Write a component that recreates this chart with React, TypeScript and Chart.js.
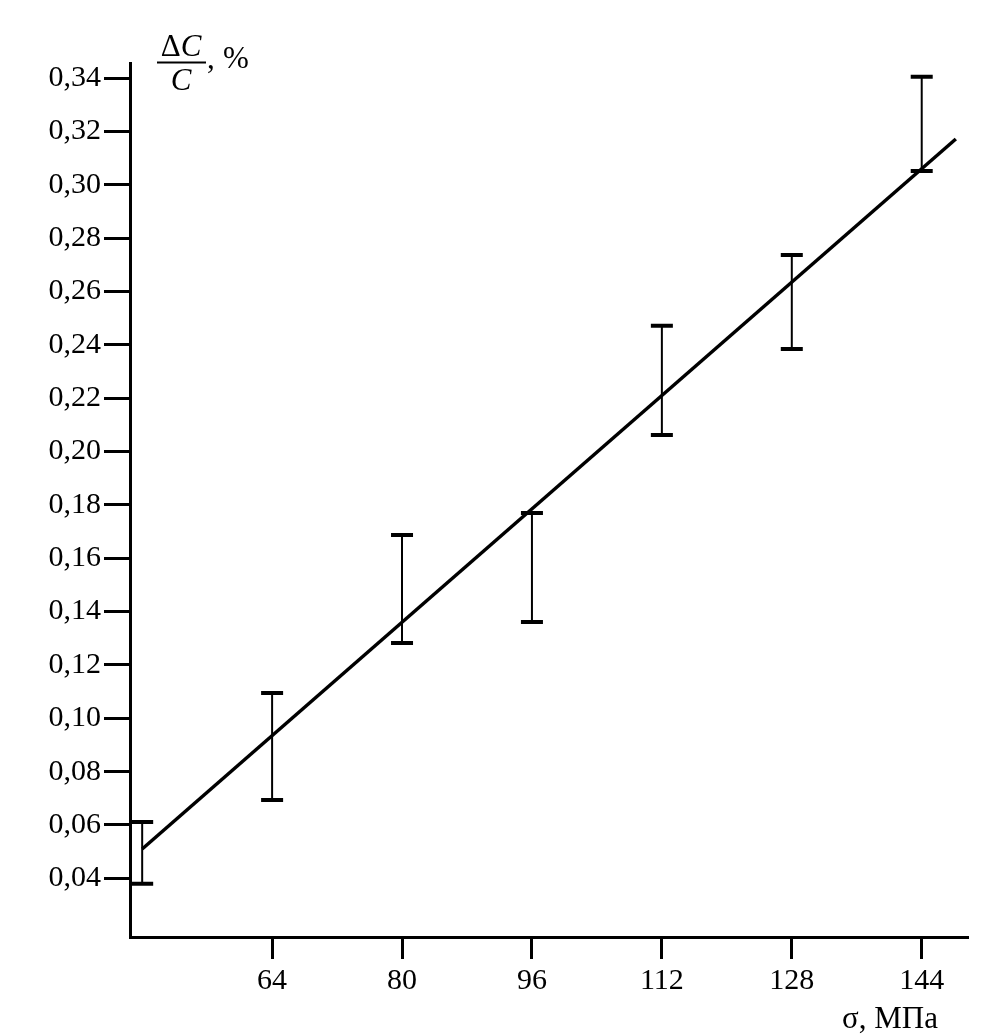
import { useEffect, useRef } from "react";
import { Chart, registerables } from "chart.js";

Chart.register(...registerables);

// Data
const sigma = [48, 64, 80, 96, 112, 128, 144];
const dcLow = [0.038, 0.0694, 0.1282, 0.1361, 0.2062, 0.2385, 0.3052];
const dcHigh = [0.0611, 0.1095, 0.1687, 0.177, 0.2472, 0.2737, 0.3405];
const fitX = [48, 148.2];
const fitY = [0.051, 0.3172];
const xTicks = [64, 80, 96, 112, 128, 144];
const yTicks = [0.04, 0.06, 0.08, 0.1, 0.12, 0.14, 0.16, 0.18, 0.2, 0.22, 0.24, 0.26, 0.28, 0.3, 0.32, 0.34];
const xTitle = "σ, МПа";

const FONT = "'Liberation Serif', 'Times New Roman', serif";

const errorBarPlugin = {
  id: "errorBars",
  afterDatasetsDraw(chart: any) {
    const { ctx, scales } = chart;
    const xs = scales.x;
    const ys = scales.y;
    ctx.save();
    ctx.strokeStyle = "#000";
    for (let i = 0; i < sigma.length; i++) {
      const px = xs.getPixelForValue(sigma[i]);
      const pLo = ys.getPixelForValue(dcLow[i]);
      const pHi = ys.getPixelForValue(dcHigh[i]);
      ctx.lineWidth = 2;
      ctx.beginPath();
      ctx.moveTo(px, pLo);
      ctx.lineTo(px, pHi);
      ctx.stroke();
      ctx.lineWidth = 4;
      ctx.beginPath();
      ctx.moveTo(px - 11, pLo);
      ctx.lineTo(px + 11, pLo);
      ctx.moveTo(px - 11, pHi);
      ctx.lineTo(px + 11, pHi);
      ctx.stroke();
    }
    ctx.restore();
  },
};

const titlesPlugin = {
  id: "titles",
  afterDraw(chart: any) {
    const { ctx } = chart;
    ctx.save();
    ctx.fillStyle = "#000";
    ctx.strokeStyle = "#000";
    ctx.textBaseline = "alphabetic";
    // Y title: fraction ΔC / C, %
    ctx.font = `31px ${FONT}`;
    ctx.textAlign = "left";
    const dW = ctx.measureText("Δ").width;
    ctx.font = `italic 31px ${FONT}`;
    const cW = ctx.measureText("C").width;
    const numW = dW + cW;
    const cx = 181;
    const nx = cx - numW / 2;
    ctx.font = `31px ${FONT}`;
    ctx.fillText("Δ", nx, 56);
    ctx.font = `italic 31px ${FONT}`;
    ctx.fillText("C", nx + dW, 56);
    ctx.textAlign = "center";
    ctx.fillText("C", cx, 90);
    ctx.lineWidth = 2;
    ctx.beginPath();
    ctx.moveTo(157, 62.5);
    ctx.lineTo(206, 62.5);
    ctx.stroke();
    ctx.font = `31px ${FONT}`;
    ctx.textAlign = "left";
    ctx.fillText(",", 207, 68);
    ctx.fillText("%", 223, 68);
    // X title
    ctx.font = `31px ${FONT}`;
    ctx.textAlign = "right";
    ctx.fillText(xTitle, 938, 1028);
    ctx.restore();
  },
};

export default function App() {
  const ref = useRef<HTMLCanvasElement | null>(null);

  useEffect(() => {
    if (!ref.current) return;
    const chart = new Chart(ref.current, {
      type: "scatter",
      data: {
        datasets: [
          {
            type: "line",
            data: fitX.map((x, i) => ({ x, y: fitY[i] })),
            borderColor: "#000",
            borderWidth: 3.5,
            pointRadius: 0,
            fill: false,
            tension: 0,
          },
        ],
      },
      options: {
        responsive: false,
        animation: false,
        devicePixelRatio: 1,
        layout: { padding: { top: 63, right: 28, left: 0, bottom: 0 } },
        plugins: {
          legend: { display: false },
          tooltip: { enabled: false },
          title: { display: false },
        },
        scales: {
          x: {
            type: "linear",
            min: 46.5,
            max: 149.7,
            afterBuildTicks: (scale: any) => {
              scale.ticks = xTicks.map((v) => ({ value: v }));
            },
            afterFit: (scale: any) => {
              scale.height = 99;
            },
            ticks: {
              autoSkip: false,
              maxRotation: 0,
              padding: 4,
              color: "#000",
              font: { family: FONT, size: 30 },
              callback: (v: any) => String(v),
            },
            grid: {
              display: true,
              drawOnChartArea: false,
              drawTicks: true,
              tickLength: 22,
              tickWidth: 3,
              tickColor: "#000",
            },
            border: { display: true, color: "#000", width: 3 },
          },
          y: {
            type: "linear",
            min: 0.018,
            max: 0.3457,
            afterBuildTicks: (scale: any) => {
              scale.ticks = yTicks.map((v) => ({ value: v }));
            },
            afterFit: (scale: any) => {
              scale.width = 130;
            },
            ticks: {
              autoSkip: false,
              padding: 3,
              color: "#000",
              font: { family: FONT, size: 30 },
              callback: (v: any) => Number(v).toFixed(2).replace(".", ","),
            },
            grid: {
              display: true,
              drawOnChartArea: false,
              drawTicks: true,
              tickLength: 26,
              tickWidth: 3,
              tickColor: "#000",
            },
            border: { display: true, color: "#000", width: 3 },
          },
        },
      },
      plugins: [errorBarPlugin, titlesPlugin],
    });
    return () => chart.destroy();
  }, []);

  return (
    <div style={{ position: "absolute", left: 0, top: 0, width: 996, height: 1036, background: "#fff" }}>
      <canvas ref={ref} width={996} height={1036} />
    </div>
  );
}
